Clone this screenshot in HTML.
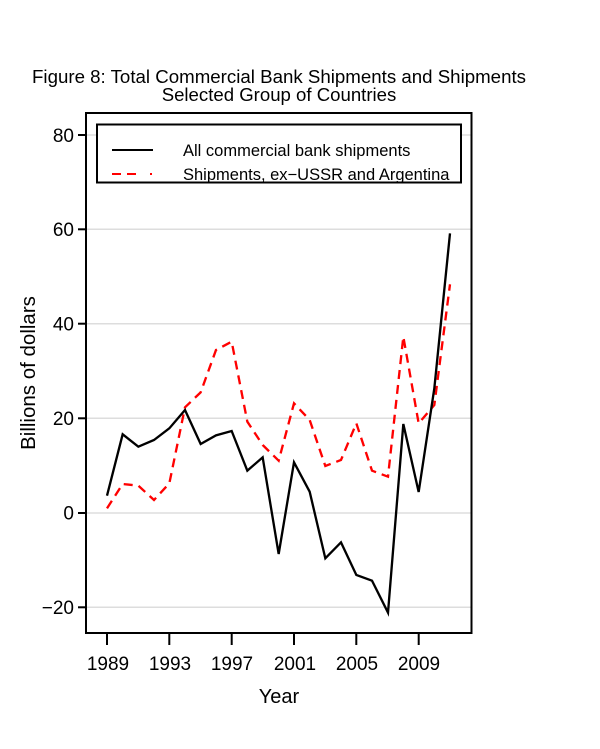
<!DOCTYPE html>
<html><head><meta charset="utf-8"><style>body{margin:0;background:#fff}svg{display:block}</style></head>
<body>
<svg width="600" height="749" xmlns="http://www.w3.org/2000/svg" font-family="Liberation Sans, Arial, sans-serif">
<rect width="600" height="749" fill="#fff"/>
<text x="279" y="83" font-size="18.6" text-anchor="middle" textLength="494" lengthAdjust="spacingAndGlyphs">Figure 8: Total Commercial Bank Shipments and Shipments</text>
<text x="279" y="101" font-size="18.6" text-anchor="middle">Selected Group of Countries</text>
<g stroke="#dddddd" stroke-width="1.5">
<line x1="87" x2="471" y1="135" y2="135"/>
<line x1="87" x2="471" y1="229.3" y2="229.3"/>
<line x1="87" x2="471" y1="323.7" y2="323.7"/>
<line x1="87" x2="471" y1="418.3" y2="418.3"/>
<line x1="87" x2="471" y1="513" y2="513"/>
<line x1="87" x2="471" y1="607.3" y2="607.3"/>
</g>
<rect x="86" y="113" width="385.5" height="520" fill="none" stroke="#000" stroke-width="2"/>
<rect x="97" y="124.5" width="364" height="58" fill="#fff" stroke="#000" stroke-width="2"/>
<line x1="112" x2="153" y1="150" y2="150" stroke="#000" stroke-width="2"/>
<line x1="112" x2="153" y1="174" y2="174" stroke="#f00" stroke-width="2" stroke-dasharray="9,6,9,14,2,10"/>
<text x="183" y="156" font-size="16.5">All commercial bank shipments</text>
<text x="183" y="180" font-size="16.5">Shipments, ex−USSR and Argentina</text>
<g stroke="#000" stroke-width="2">
<line x1="78" x2="86" y1="135" y2="135"/><line x1="78" x2="86" y1="229.3" y2="229.3"/><line x1="78" x2="86" y1="323.7" y2="323.7"/><line x1="78" x2="86" y1="418.3" y2="418.3"/><line x1="78" x2="86" y1="513" y2="513"/><line x1="78" x2="86" y1="607.3" y2="607.3"/>
<line x1="107" x2="107" y1="633" y2="645"/><line x1="169.3" x2="169.3" y1="633" y2="645"/><line x1="231.7" x2="231.7" y1="633" y2="645"/><line x1="294" x2="294" y1="633" y2="645"/><line x1="356.3" x2="356.3" y1="633" y2="645"/><line x1="418.7" x2="418.7" y1="633" y2="645"/>
</g>
<g font-size="19" text-anchor="end">
<text x="74" y="142">80</text><text x="74" y="236">60</text><text x="74" y="330.5">40</text><text x="74" y="425">20</text><text x="74" y="519.5">0</text><text x="74" y="614">−20</text>
</g>
<g font-size="19" text-anchor="middle">
<text x="108" y="670">1989</text><text x="170" y="670">1993</text><text x="232" y="670">1997</text><text x="295" y="670">2001</text><text x="357" y="670">2005</text><text x="419" y="670">2009</text>
<text x="279" y="703" font-size="20">Year</text>
<text transform="translate(35,373) rotate(-90)" font-size="20.5">Billions of dollars</text>
</g>
<g transform="translate(86,200) scale(0.33333)" fill="none" stroke-linejoin="miter">
<polyline stroke="#f00" stroke-width="7" stroke-dasharray="27,18" points="63,925 110,852 157,857 204,900 250,850 297,622 344,577 390,450 437,425 484,665 530,735 578,782 624,610 671,660 718,798 765,780 811,670 858,812 906,830 952,410 998,670 1045,615 1092,253"/>
<polyline stroke="#000" stroke-width="7" points="63,887 110,703 157,740 204,720 250,685 297,630 344,732 390,706 437,693 484,812 530,772 578,1062 624,787 671,875 718,1075 765,1027 811,1125 858,1142 906,1238 952,672 998,876 1045,565 1092,100"/>
</g>
</svg>
</body></html>
